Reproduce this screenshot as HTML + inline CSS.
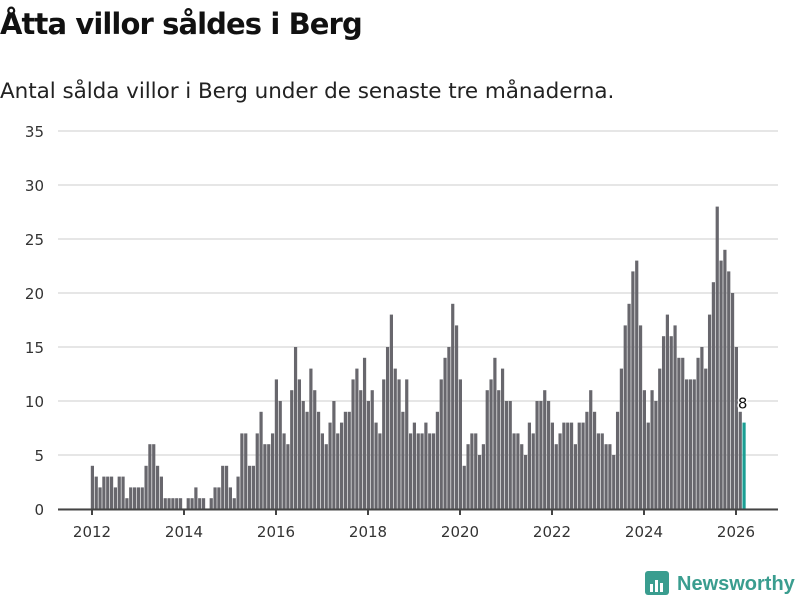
<!DOCTYPE html>
<html><head><meta charset="utf-8"><style>
body{margin:0;background:#fff;font-family:"DejaVu Sans","Liberation Sans",sans-serif;}
#wrap{position:relative;width:800px;height:600px;overflow:hidden;}
h1{position:absolute;left:0;top:7px;margin:0;font-size:29px;font-weight:bold;color:#111;letter-spacing:-0.9px}
p.sub{position:absolute;left:0;top:79px;margin:0;font-size:21.5px;color:#222;letter-spacing:-0.05px}
svg{position:absolute;left:0;top:0}
</style></head><body>
<div id="wrap">
<h1>Åtta villor såldes i Berg</h1>
<p class="sub">Antal sålda villor i Berg under de senaste tre månaderna.</p>
<svg id="chart" width="800" height="600"></svg>
</div>
<script>
const startYear = 2012;
const values = [
4,3,2,3,3,3,2,3,3,1,2,2,
2,2,4,6,6,4,3,1,1,1,1,1,
0,1,1,2,1,1,0,1,2,2,4,4,
2,1,3,7,7,4,4,7,9,6,6,7,
12,10,7,6,11,15,12,10,9,13,11,9,
7,6,8,10,7,8,9,9,12,13,11,14,
10,11,8,7,12,15,18,13,12,9,12,7,
8,7,7,8,7,7,9,12,14,15,19,17,
12,4,6,7,7,5,6,11,12,14,11,13,
10,10,7,7,6,5,8,7,10,10,11,10,
8,6,7,8,8,8,6,8,8,9,11,9,
7,7,6,6,5,9,13,17,19,22,23,17,
11,8,11,10,13,16,18,16,17,14,14,12,
12,12,14,15,13,18,21,28,23,24,22,20,
15,9,8];
const yTicks = [0,5,10,15,20,25,30,35];
const xTicks = [2012,2014,2016,2018,2020,2022,2024,2026];

const svg = document.getElementById('chart');
const NS = 'http://www.w3.org/2000/svg';
const FONT = 'DejaVu Sans, Liberation Sans, sans-serif';
const y = v => 509 - v * 10.8;
const xYear = yr => 92 + (yr - startYear) * 46;
const xMonth = i => 92 + i * 46 / 12;
function mk(tag, attrs){const e=document.createElementNS(NS,tag);for(const k in attrs)e.setAttribute(k,attrs[k]);svg.appendChild(e);return e;}

yTicks.forEach(t=>{
  const g = mk('line',{x1:58,x2:778,y1:y(t),y2:y(t),stroke:'#dedede','stroke-width':1.5});
  
  
  const l = mk('text',{x:44,y:y(t)+6,'text-anchor':'end','font-size':15,fill:'#333','font-family':FONT});
  l.textContent = t;
  
  
});

values.forEach((v,i)=>{
  const last = i === values.length-1;
  const b = mk('rect',{x:xMonth(i)-1.2,y:y(v),width:3.2,height:509-y(v),fill:last?'#1a9e93':'#68676d'});
  
  
});

const ax = mk('line',{x1:58,x2:778,y1:509.5,y2:509.5,stroke:'#444','stroke-width':2});



xTicks.forEach(t=>{
  const tk = mk('line',{x1:xYear(t),x2:xYear(t),y1:509,y2:515,stroke:'#444','stroke-width':2});
  
  
  const l = mk('text',{x:xYear(t),y:537,'text-anchor':'middle','font-size':15,fill:'#333','font-family':FONT});
  l.textContent = t;
  
  
});

const li = values.length-1;
const vl = mk('text',{x:xMonth(li)-1,y:y(values[li])-14,'text-anchor':'middle','font-size':15,fill:'#111',stroke:'#fff','stroke-width':3,'paint-order':'stroke','font-family':FONT});
vl.textContent = values[li];



const logo = mk('g',{});


const r = document.createElementNS(NS,'rect');
r.setAttribute('x',645);r.setAttribute('y',571);r.setAttribute('width',24);r.setAttribute('height',24);r.setAttribute('rx',3);r.setAttribute('fill','#3a9d8f');
logo.appendChild(r);
[[650,584,3,8],[655,580,3,12],[660,583,3,9]].forEach(a=>{const bb=document.createElementNS(NS,'rect');bb.setAttribute('x',a[0]);bb.setAttribute('y',a[1]);bb.setAttribute('width',a[2]);bb.setAttribute('height',a[3]);bb.setAttribute('fill','#fff');logo.appendChild(bb);});
const lt = document.createElementNS(NS,'text');
lt.setAttribute('x',677);lt.setAttribute('y',590);lt.setAttribute('font-size',20);lt.setAttribute('font-weight','bold');lt.setAttribute('fill','#3a9d8f');lt.setAttribute('font-family','Liberation Sans, sans-serif');
lt.textContent='Newsworthy';
logo.appendChild(lt);
</script>
</body></html>
